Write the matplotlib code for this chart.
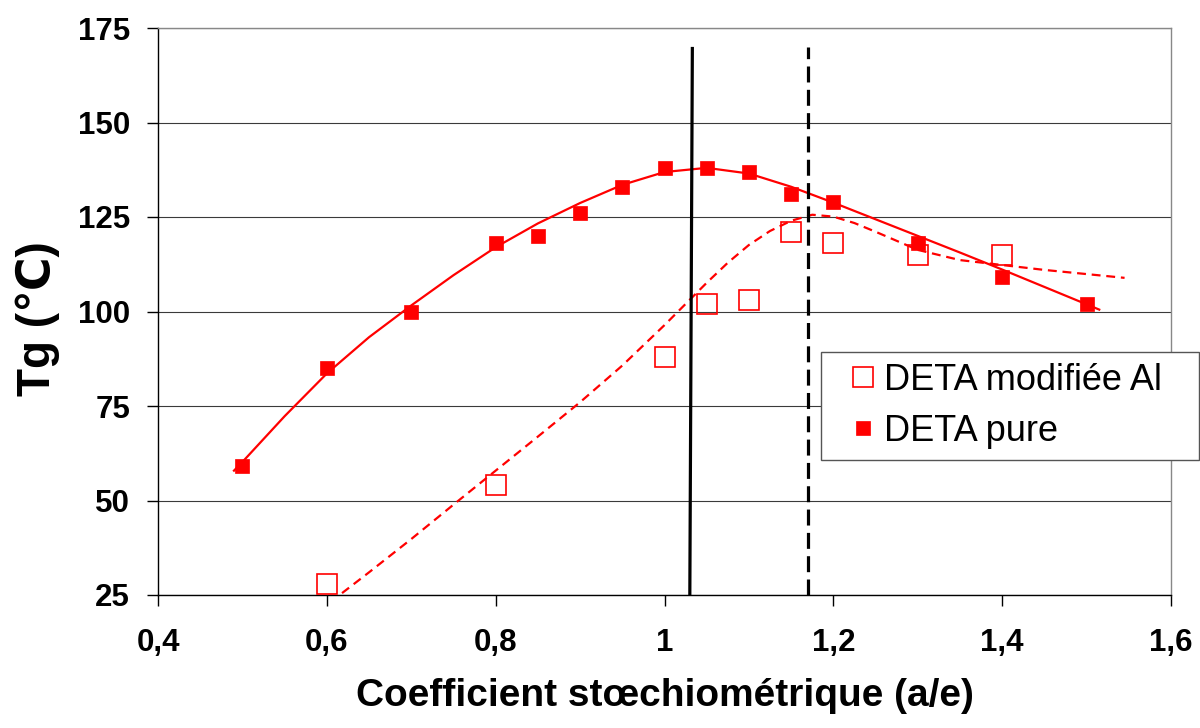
import numpy as np
import matplotlib
matplotlib.use("Agg")
import matplotlib.pyplot as plt
from matplotlib.ticker import FixedLocator

plt.rcParams['font.family'] = ['Liberation Sans', 'DejaVu Sans']

# ---- data ----
x_pure = [0.5, 0.6, 0.7, 0.8, 0.85, 0.9, 0.95, 1.0, 1.05, 1.1, 1.15, 1.2, 1.3, 1.4, 1.5]
tg_pure = [59, 85, 100, 118, 120, 126, 133, 138, 138, 137, 131, 129, 118, 109, 102]

x_mod = [0.6, 0.8, 1.0, 1.05, 1.1, 1.15, 1.2, 1.3, 1.4]
tg_mod = [28, 54, 88, 102, 103, 121, 118, 115, 115]

label_mod = "DETA modifiée Al"
label_pure = "DETA pure"

# trend curves as drawn in the reference
trend_pure_x = [0.49, 0.5, 0.55, 0.6, 0.65, 0.7, 0.75, 0.8, 0.85, 0.9, 0.95,
                1.0, 1.05, 1.1, 1.15, 1.2, 1.25, 1.3, 1.35, 1.4, 1.45, 1.5, 1.515]
trend_pure_y = [57.9, 60.2, 72.3, 83.6, 93.2, 101.6, 109.6, 117.0, 123.3, 128.7, 133.5,
                136.9, 138.0, 136.5, 133.0, 128.8, 124.4, 120.0, 115.6, 111.1, 106.5, 101.9, 100.5]

trend_mod_x = [0.618, 0.65, 0.7, 0.75, 0.8, 0.85, 0.9, 0.95, 1.0, 1.025, 1.05, 1.075,
               1.1, 1.125, 1.15, 1.175, 1.2, 1.225, 1.25, 1.3, 1.35, 1.4, 1.45, 1.5, 1.545]
trend_mod_y = [25.5, 31.0, 39.8, 48.9, 57.9, 66.9, 76.0, 85.7, 96.4, 102.0, 107.6, 112.9,
               117.6, 121.3, 124.0, 125.6, 125.1, 123.4, 121.1, 116.3, 113.6, 112.3, 111.0,
               109.9, 108.9]

# vertical reference lines (stoichiometric ratios)
stoich_solid_x = (1.030, 1.033)   # bottom, top
stoich_dashed_x = (1.170, 1.170)
stoich_y = (25, 170)

x_ticks = [0.4, 0.6, 0.8, 1.0, 1.2, 1.4, 1.6]
x_ticklabels = ["0,4", "0,6", "0,8", "1", "1,2", "1,4", "1,6"]
y_ticks = [25, 50, 75, 100, 125, 150, 175]

xlabel = "Coefficient stœchiométrique (a/e)"
ylabel = "Tg (℃)"

RED = "#FF0000"

fig = plt.figure(figsize=(12, 7.28), dpi=100)
ax = fig.add_axes([158/1200, 1 - 595/728, (1171-158)/1200, (595-28)/728])

ax.set_xlim(0.4, 1.6)
ax.set_ylim(25, 175)

# grid
ax.yaxis.grid(True, color="#3a3a3a", linewidth=0.8, zorder=0)
ax.set_axisbelow(True)

# trend curves
ax.plot(trend_pure_x, trend_pure_y, color=RED, lw=1.6, zorder=2,
        solid_joinstyle="round")
ax.plot(trend_mod_x, trend_mod_y, color=RED, lw=1.6,
        linestyle=(0, (4, 2.6)), zorder=2)

# data points
ax.plot(x_mod, tg_mod, linestyle="none", marker="s", markersize=14.5,
        markerfacecolor="none", markeredgecolor=RED, markeredgewidth=1.2,
        label=label_mod, zorder=3)
ax.plot(x_pure, tg_pure, linestyle="none", marker="s", markersize=10,
        markerfacecolor=RED, markeredgecolor=RED, markeredgewidth=0.5,
        label=label_pure, zorder=4)

# vertical lines
ax.plot(stoich_solid_x, stoich_y, color="black", lw=2.3, zorder=5,
        solid_capstyle="butt")
ax.plot(stoich_dashed_x, stoich_y, color="black", lw=2.3, zorder=5,
        linestyle=(0, (5, 2.3)))

# spines
for s in ("top", "right"):
    ax.spines[s].set_color("#888888")
    ax.spines[s].set_linewidth(1.0)
for s in ("left", "bottom"):
    ax.spines[s].set_color("black")
    ax.spines[s].set_linewidth(1.0)

ax.xaxis.set_major_locator(FixedLocator(x_ticks))
ax.set_xticklabels(x_ticklabels)
ax.yaxis.set_major_locator(FixedLocator(y_ticks))
ax.tick_params(axis="both", direction="out", length=8, width=1.0,
               color="black", labelsize=22.5)
ax.tick_params(axis="x", pad=16)
ax.tick_params(axis="y", pad=12)
for t in ax.get_xticklabels() + ax.get_yticklabels():
    t.set_fontweight("bold")

ax.set_xlabel(xlabel, fontsize=28, fontweight="bold", labelpad=14)
ax.set_ylabel(ylabel, fontsize=33, fontweight="bold")
ax.yaxis.set_label_coords(-0.097, 0.487)

leg = fig.legend(loc="upper left",
                 bbox_to_anchor=(821/1200, 1 - 352/728, (1199-821)/1200, 0),
                 bbox_transform=fig.transFigure, mode="expand",
                 fontsize=26, frameon=True, fancybox=False, borderpad=0.3,
                 labelspacing=0.45, handlelength=1.75, handletextpad=-0.3,
                 borderaxespad=0)
leg.get_frame().set_edgecolor("#555555")
leg.get_frame().set_linewidth(1.0)
leg.get_frame().set_alpha(1)

fig.savefig("out.png", dpi=100)
